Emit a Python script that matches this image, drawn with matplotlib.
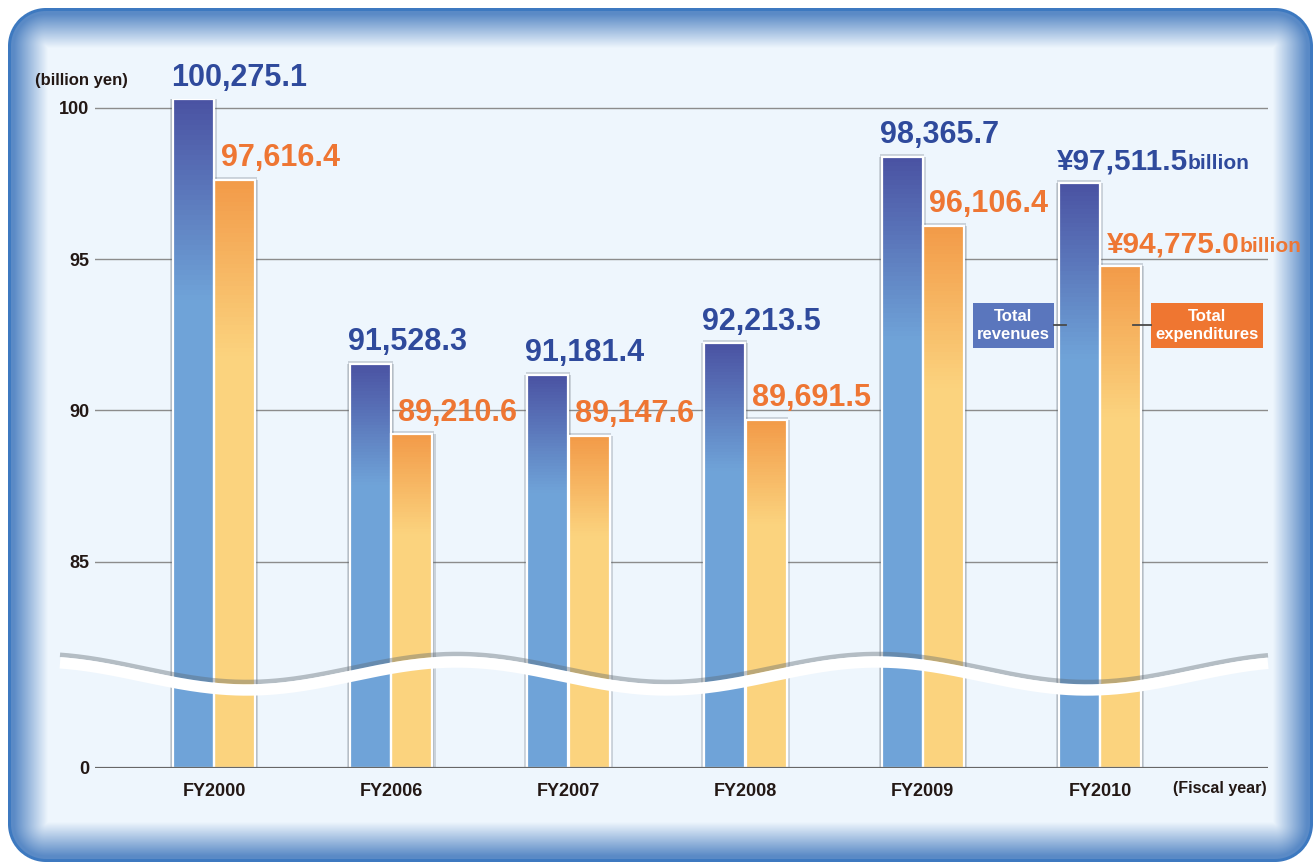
import numpy as np
import matplotlib
matplotlib.use("Agg")
import matplotlib.pyplot as plt
from matplotlib.patches import Rectangle
from matplotlib.lines import Line2D
from matplotlib.colors import to_rgb

# data (billion yen)
years = ["FY2000", "FY2006", "FY2007", "FY2008", "FY2009", "FY2010"]
revenues = [100275.1, 91528.3, 91181.4, 92213.5, 98365.7, 97511.5]
expenditures = [97616.4, 89210.6, 89147.6, 89691.5, 96106.4, 94775.0]
yticks = [0, 85, 90, 95, 100]

W, H = 1314, 865
plt.rcParams['font.family'] = ['Liberation Sans', 'DejaVu Sans']
plt.rcParams['font.weight'] = 'bold'

fig = plt.figure(figsize=(W / 100, H / 100), dpi=100)


def fx(x):
    return x / W


def fy(y):
    return 1 - y / H


# ---- background panel (rounded box with blue inner glow)
yy, xx = np.mgrid[0:H, 0:W] + 0.5
x0, x1, y0, y1, r = 8, 1313, 8, 862, 38
cx, cy = (x0 + x1) / 2, (y0 + y1) / 2
qx = np.abs(xx - cx) - ((x1 - x0) / 2 - r)
qy = np.abs(yy - cy) - ((y1 - y0) / 2 - r)
sd = np.sqrt(np.maximum(qx, 0) ** 2 + np.maximum(qy, 0) ** 2) + np.minimum(np.maximum(qx, qy), 0) - r
d = -sd
bg = np.array(to_rgb('#EEF6FD'))
edge = np.array(to_rgb('#5A8AC6'))
border = np.array(to_rgb('#3D79C0'))
t = np.clip((d - 6) / 34, 0, 1)[..., None]
inner = edge * (1 - t) + bg * t
b = np.clip(d - 2.5, 0, 1)[..., None]
inner = border * (1 - b) + inner * b
a = np.clip(d + 0.5, 0, 1)[..., None]
img = np.ones((H, W, 3)) * (1 - a) + inner * a

bg_ax = fig.add_axes([0, 0, 1, 1], zorder=0)
bg_ax.imshow(img, extent=(0, 1, 0, 1), aspect='auto', interpolation='nearest')
bg_ax.axis('off')

# ---- broken y scale: 85..100 linear, 0..81.3 squeezed below the wave
B = 81.3
Z0 = 78.19


def fwd(v):
    v = np.asarray(v, dtype=float)
    return np.where(v >= B, v, Z0 + v * (B - Z0) / B)


def inv(z):
    z = np.asarray(z, dtype=float)
    return np.where(z >= B, z, (z - Z0) * B / (B - Z0))


ax_l, ax_r = 95, 1268
ax = fig.add_axes([fx(ax_l), fy(768), (ax_r - ax_l) / W, (768 - 98.7) / H], zorder=1)
ax.set_facecolor('none')
ax.set_yscale('function', functions=(fwd, inv))
ax.set_ylim(0, 100.3)
step = 177.2
ax.set_xlim((ax_l - 214) / step, (ax_r - 214) / step)
for s in ax.spines.values():
    s.set_visible(False)

rev = np.array(revenues) / 1000
exp = np.array(expenditures) / 1000
xs = np.arange(len(years))
bw = 0.231
off = 0.117

for tk in yticks[1:]:
    ax.axhline(tk, color='#8c8c8c', lw=1.0, zorder=1)
ax.axhline(0, color='#676767', lw=2.3, zorder=6)

rev_top, rev_bot = np.array(to_rgb('#4A52A2')), np.array(to_rgb('#6FA3D8'))
exp_top, exp_bot = np.array(to_rgb('#F29A48')), np.array(to_rgb('#FBD37E'))


def grad_bars(xpos, vals, ctop, cbot):
    ax.bar(xpos, vals, width=bw + 0.035, color='#4a5560', alpha=0.22, lw=0, zorder=2)
    ax.bar(xpos, vals + 0.1, width=bw + 0.018, color='#4a5560', alpha=0.22, lw=0, zorder=2)
    ax.bar(xpos, vals, width=bw, color=cbot, lw=0, zorder=3)
    n = 40
    for xp, v in zip(xpos, vals):
        g = 0.3 * (v - Z0)
        for i in range(n):
            hi = v - g * i / n
            lo = v - g * (i + 1) / n
            c = ctop + (cbot - ctop) * (i + 0.5) / n
            ax.bar(xp, hi - lo, bottom=lo, width=bw, color=c, lw=0, zorder=3, antialiased=False)
    ax.bar(xpos, vals, width=bw, facecolor='none', edgecolor='white', lw=1.6, zorder=4)


grad_bars(xs - off, rev, rev_top, rev_bot)
grad_bars(xs + off, exp, exp_top, exp_bot)

# value labels
rev_col = '#2F4A9C'
exp_col = '#EE7633'
for i, (rv, ev) in enumerate(zip(revenues, expenditures)):
    last = i == len(years) - 1
    for val, v, xl, dx, col in [(rv, rev[i], xs[i] - off - bw / 2, -1.5, rev_col),
                                (ev, exp[i], xs[i] + off - bw / 2, 4.5, exp_col)]:
        txt = ("¥" if last else "") + f"{val:,.1f}"
        size = 21.5 if last else 22
        t1 = ax.annotate(txt, xy=(xl, v), xytext=(dx, 10), textcoords='offset points',
                         ha='left', va='baseline', fontsize=size, fontweight='bold',
                         color=col, zorder=7)
        if last:
            fig.canvas.draw()
            wpt = t1.get_window_extent().width * 72 / fig.dpi
            ax.annotate("billion", xy=(xl, v), xytext=(dx + wpt, 10),
                        textcoords='offset points', ha='left', va='baseline',
                        fontsize=15, fontweight='bold', color=col, zorder=7)

ax.set_yticks(yticks)
ax.set_yticklabels([str(tk) for tk in yticks])
ax.set_xticks(xs)
ax.set_xticklabels(years)
ax.tick_params(axis='y', length=0, pad=4, labelsize=13, labelcolor='#231815')
ax.tick_params(axis='x', length=0, pad=11, labelsize=13, labelcolor='#231815')

fig.text(fx(35), fy(80), "(billion yen)", ha='left', va='center', fontsize=12,
         fontweight='bold', color='#231815')
fig.text(fx(1267), fy(788), "(Fiscal year)", ha='right', va='center', fontsize=11.5,
         fontweight='bold', color='#231815')

# ---- wave marking the axis break
wx = np.linspace(60, 1268, 600)
wy = 676 + 14 * np.cos(2 * np.pi * (wx - 247) / 420)
fig.add_artist(Line2D(fx(wx), fy(wy - 8), transform=fig.transFigure, color='#5d6870',
                      alpha=0.4, lw=3.3, solid_capstyle='butt', zorder=3))
fig.add_artist(Line2D(fx(wx), fy(wy), transform=fig.transFigure, color='white',
                      lw=8.2, solid_capstyle='butt', zorder=3))

# ---- legend boxes
for (bx0, bx1, col, label, lx0, lx1) in [(973, 1054, '#5A76BD', "Total\nrevenues", 1054, 1066),
                                         (1151, 1263, '#EF7631', "Total\nexpenditures", 1133, 1151)]:
    fig.add_artist(Rectangle((fx(bx0), fy(348)), (bx1 - bx0) / W, 45 / H,
                             transform=fig.transFigure, facecolor=col, lw=0, zorder=4))
    fig.add_artist(Line2D([fx(lx0), fx(lx1)], [fy(325), fy(325)], transform=fig.transFigure,
                          color='#4a4a4a', lw=1.3, zorder=4))
    fig.text(fx((bx0 + bx1) / 2), fy(325.5), label, ha='center', va='center', fontsize=12,
             fontweight='bold', color='white', linespacing=1.2, zorder=5)

fig.savefig("out.png", dpi=100)
